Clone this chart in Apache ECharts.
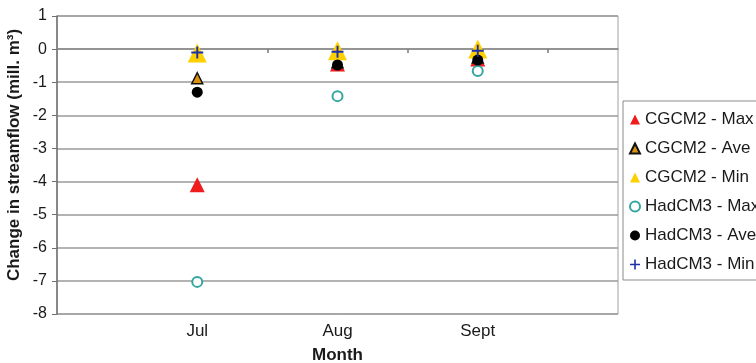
<!DOCTYPE html>
<html>
<head>
<meta charset="utf-8">
<script src="https://cdn.jsdelivr.net/npm/echarts@6/dist/echarts.min.js"></script>
<style>
  html, body { margin: 0; padding: 0; background: #fff; }
  #chart { width: 756px; height: 363px; }
</style>
</head>
<body>
<div id="chart"></div>
<script>
// Monthly change in streamflow under two climate models
const months = ['Jul', 'Aug', 'Sept'];
const cgcm2Max = [-4.1, -0.45, -0.3];
const cgcm2Ave = [-0.88, -0.4, -0.25];
const cgcm2Min = [-0.12, -0.05, 0.0];
const hadcm3Max = [-7.03, -1.42, -0.66];
const hadcm3Ave = [-1.3, -0.48, -0.33];
const hadcm3Min = [-0.1, -0.08, -0.05];

const FONT = 'Liberation Sans, Arial, sans-serif';
const plus = 'path://M4.2,0H5.8V4.2H10V5.8H5.8V10H4.2V5.8H0V4.2H4.2Z';

// months sit at x = 1, 2, 3 on a 0..4 axis
const pts = arr => arr.map((v, i) => [i + 1, v]);

function scatter(name, data, symbol, size, style) {
  return {
    name, type: 'scatter', data: pts(data), symbol, symbolSize: size,
    itemStyle: Object.assign({ opacity: 1 }, style),
    xAxisIndex: 0, yAxisIndex: 0, z: 3
  };
}

const chart = echarts.init(document.getElementById('chart'), null, { renderer: 'canvas' });
chart.setOption({
  animation: false,
  grid: {
    left: 57, right: 138, top: 16, bottom: 49, outerBoundsMode: 'none',
    show: true, borderColor: '#a0a0a0', borderWidth: 1
  },
  legend: {
    orient: 'vertical', left: 623, top: 101,
    itemWidth: 10, itemHeight: 10, itemGap: 12,
    padding: [10, 40, 7, 6],
    borderColor: '#8a8a8a', borderWidth: 1,
    textStyle: { fontFamily: FONT, fontSize: 17, color: '#1a1a1a' },
    data: ['CGCM2 - Max', 'CGCM2 - Ave', 'CGCM2 - Min', 'HadCM3 - Max', 'HadCM3 - Ave', 'HadCM3 - Min']
  },
  graphic: [{
    type: 'text', x: 14, y: 155, rotation: Math.PI / 2,
    style: {
      text: 'Change in streamflow (mill. m³)', fill: '#1a1a1a',
      font: 'bold 17px Liberation Sans, Arial, sans-serif',
      textAlign: 'center', textVerticalAlign: 'middle'
    }
  }],
  xAxis: [{
    type: 'value', min: 0, max: 4, interval: 1, position: 'bottom',
    axisLine: { show: false, onZero: false }, axisTick: { show: false }, splitLine: { show: false },
    axisLabel: {
      fontFamily: FONT, fontSize: 17, color: '#1a1a1a', margin: 9,
      formatter: v => (v >= 1 && v <= months.length) ? months[v - 1] : ''
    },
    name: 'Month', nameLocation: 'middle', nameGap: 33,
    nameTextStyle: { fontFamily: FONT, fontSize: 17, fontWeight: 'bold', color: '#1a1a1a' }
  }, {
    // axis line drawn through zero with tick marks between months
    type: 'value', min: 0, max: 4, position: 'bottom',
    axisLine: { show: true, onZero: true, onZeroAxisIndex: 0, lineStyle: { color: '#8a8a8a', width: 1.5 } },
    axisTick: { show: true, length: 4, customValues: [1.5, 2.5, 3.5], lineStyle: { color: '#7a7a7a', width: 1.5 } },
    axisLabel: { show: false }, splitLine: { show: false }
  }],
  yAxis: {
    type: 'value', min: -8, max: 1, interval: 1,
    axisLine: { show: true, onZero: false, lineStyle: { color: '#707070', width: 1.5 } },
    axisTick: { show: true, length: 5, lineStyle: { color: '#707070' } },
    axisLabel: { fontFamily: FONT, fontSize: 16, color: '#1a1a1a', margin: 10 },
    splitLine: { show: true, lineStyle: { color: '#9a9a9a', width: 1.5 } }
  },
  series: [
    scatter('CGCM2 - Max', cgcm2Max, 'triangle', 15, { color: '#ee1c1c' }),
    scatter('CGCM2 - Ave', cgcm2Ave, 'triangle', 11, { color: '#d9930f', borderColor: '#111', borderWidth: 1.5 }),
    scatter('CGCM2 - Min', cgcm2Min, 'triangle', 19, { color: '#ffd000' }),
    scatter('HadCM3 - Max', hadcm3Max, 'emptyCircle', 10, { color: '#33a6a0', borderColor: '#33a6a0', borderWidth: 2 }),
    scatter('HadCM3 - Ave', hadcm3Ave, 'circle', 11, { color: '#000' }),
    scatter('HadCM3 - Min', hadcm3Min, plus, 12, { color: '#1f2fa8' })
  ]
});
</script>
</body>
</html>
